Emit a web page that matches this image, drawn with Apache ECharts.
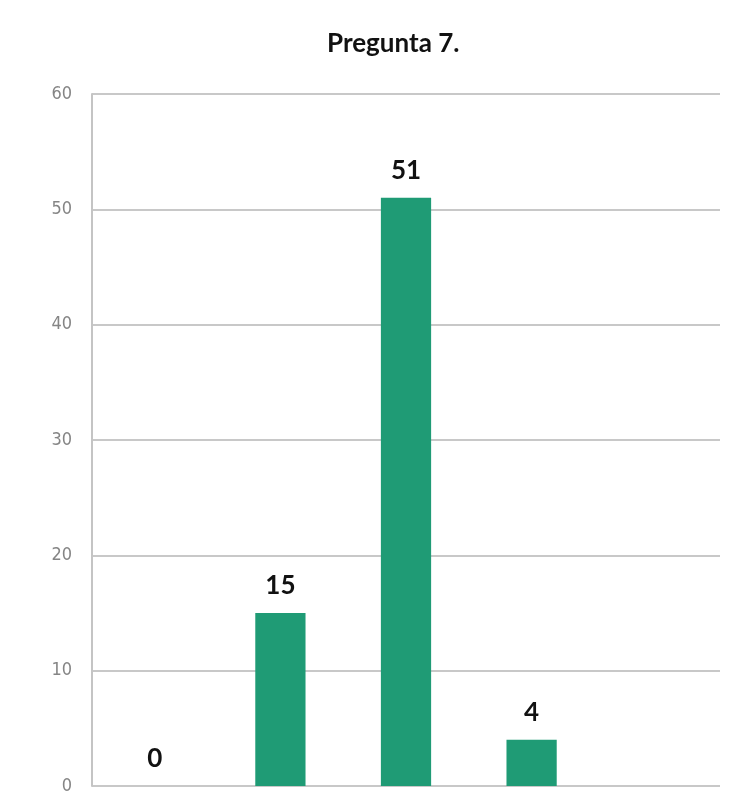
<!DOCTYPE html>
<html>
<head>
<meta charset="utf-8">
<script src="https://cdn.jsdelivr.net/npm/echarts@6/dist/echarts.min.js"></script>
<style>
  html, body { margin: 0; padding: 0; background: #ffffff; }
  #chart { width: 736px; height: 796px; }
</style>
</head>
<body>
<div id="chart"></div>
<script>
// Answer counts for question 7, one bar per option
const categories = ['A', 'B', 'C', 'D', 'E'];
const counts = [0, 15, 51, 4, null];
const yTicks = { min: 0, max: 60, step: 10 };
const chartTitle = 'Pregunta 7.';

const chart = echarts.init(document.getElementById('chart'), null, { renderer: 'canvas' });

chart.setOption({
  animation: false,
  backgroundColor: '#ffffff',
  title: {
    text: chartTitle,
    left: 322,
    top: 26,
    textStyle: {
      fontFamily: 'Lato, "Open Sans", sans-serif',
      fontWeight: 'bold',
      fontSize: 26,
      color: '#111111'
    }
  },
  grid: { left: 92, right: 16, top: 94, bottom: 10, containLabel: false },
  xAxis: {
    type: 'category',
    data: categories,
    axisLine: { show: false },
    axisTick: { show: false },
    axisLabel: { show: false }
  },
  yAxis: {
    type: 'value',
    min: yTicks.min,
    max: yTicks.max,
    interval: yTicks.step,
    axisLine: { show: true, lineStyle: { color: '#c4c4c4', width: 2 } },
    axisTick: { show: false },
    axisLabel: {
      margin: 20,
      color: '#858585',
      fontSize: 18,
      fontFamily: '"Liberation Sans Narrow", "DejaVu Sans Condensed", sans-serif'
    },
    splitLine: { show: true, lineStyle: { color: '#c8c8c8', width: 2 } }
  },
  series: [{
    type: 'bar',
    data: counts,
    barWidth: '40%',
    itemStyle: { color: '#1f9b75' },
    label: {
      show: true,
      position: 'top',
      distance: 14,
      color: '#111111',
      fontWeight: 'bold',
      fontSize: 26,
      fontFamily: 'Lato, "Open Sans", sans-serif'
    }
  }]
});
</script>
</body>
</html>
